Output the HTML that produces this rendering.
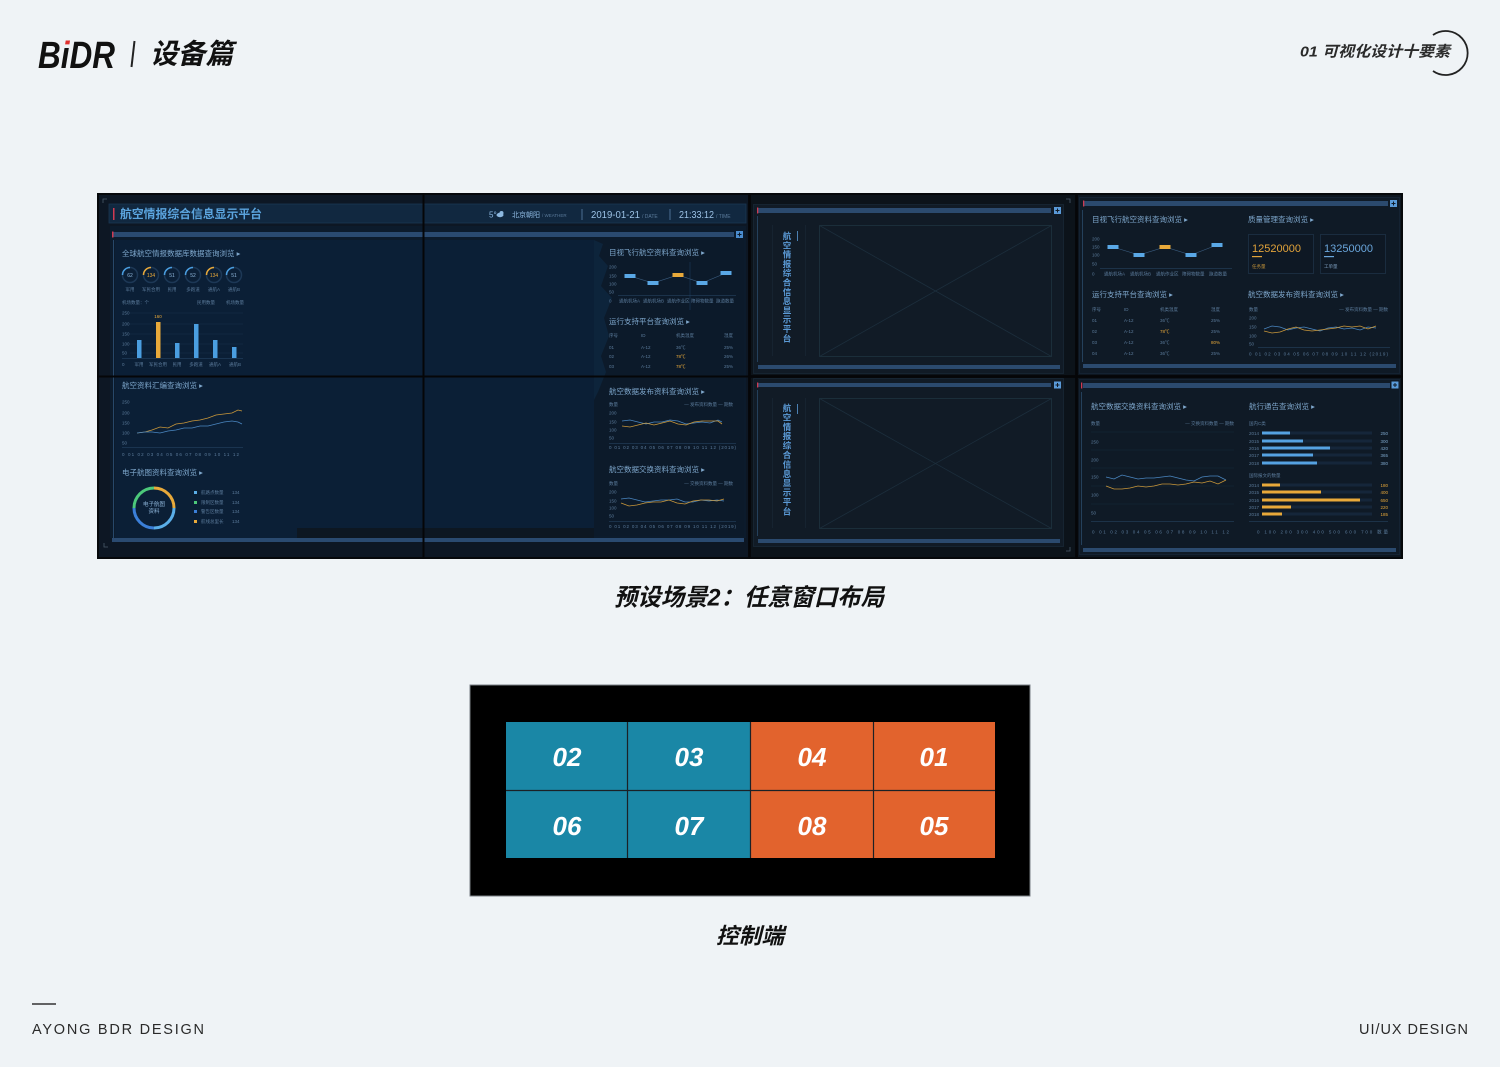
<!DOCTYPE html>
<html><head><meta charset="utf-8">
<style>
html,body{margin:0;padding:0;background:#eff3f6;}
body{width:1500px;height:1067px;overflow:hidden;}
svg{display:block}
text{font-family:"Liberation Sans","Noto Sans CJK SC",sans-serif;}
.s{font-size:7.5px;fill:#7ea7cc}
.m{font-size:4.5px;fill:#5b7b9b}
.v{font-size:8.5px;font-weight:bold;fill:#5b9ad6;text-anchor:middle}
</style></head><body>
<svg width="1500" height="1067" viewBox="0 0 1500 1067" xmlns="http://www.w3.org/2000/svg">
<defs>
<linearGradient id="ig" gradientUnits="userSpaceOnUse" x1="0" y1="38" x2="0" y2="70">
<stop offset="0.28" stop-color="#e0312f"/><stop offset="0.28" stop-color="#111"/>
</linearGradient>
</defs>
<rect x="0" y="0" width="1500" height="1067" fill="#eff3f6"/>

<!-- HEADER -->
<text x="38" y="68" font-size="38" font-weight="bold" font-style="italic" fill="#111" textLength="77" lengthAdjust="spacingAndGlyphs">B<tspan fill="url(#ig)">i</tspan>DR</text>
<line x1="134.5" y1="41" x2="131.5" y2="67" stroke="#222" stroke-width="2"/>
<text x="150" y="54" dominant-baseline="central" font-size="28" font-weight="bold" font-style="italic" fill="#111" textLength="83" lengthAdjust="spacingAndGlyphs">设备篇</text>

<text x="1300" y="52" dominant-baseline="central" font-size="15" font-weight="bold" font-style="italic" fill="#2a2a2a" textLength="150" lengthAdjust="spacingAndGlyphs">01 可视化设计十要素</text>
<path d="M1433 35 A22 22 0 1 1 1433 71" fill="none" stroke="#222" stroke-width="1.8"/>

<!-- DASHBOARD FRAME -->
<rect x="97" y="193" width="1306" height="366" fill="#06080b"/>

<!-- LEFT WINDOW -->
<rect x="99" y="195" width="649" height="362" fill="#0d1724"/>
<path d="M103 203V199H107" stroke="#4a5a6a" fill="none" stroke-width="0.8"/>
<rect x="109" y="204" width="637" height="19" fill="#112840" stroke="#1b3652" stroke-width="0.8"/>
<rect x="113" y="208" width="1.5" height="12" fill="#d03a52"/>
<text x="120" y="214" dominant-baseline="central" font-size="12" font-weight="bold" fill="#5ba4de" textLength="142" lengthAdjust="spacingAndGlyphs">航空情报综合信息显示平台</text>
<text x="489" y="217.5" font-size="8" fill="#8db8e0">5°</text>
<ellipse cx="500" cy="215" rx="3.5" ry="2.2" fill="#8db8e0"/><circle cx="501.5" cy="213" r="2" fill="#8db8e0"/>
<text x="512" y="217" font-size="7" fill="#8db8e0">北京朝阳 <tspan font-size="4.5" fill="#5a7a9a">/ WEATHER</tspan></text>
<line x1="582" y1="209" x2="582" y2="220" stroke="#5a80a8" stroke-width="0.8"/>
<text x="591" y="218" font-size="10" fill="#9cc2e6" textLength="49" lengthAdjust="spacingAndGlyphs">2019-01-21</text>
<text x="642" y="218" font-size="5" fill="#5a7a9a">/ DATE</text>
<line x1="670" y1="209" x2="670" y2="220" stroke="#5a80a8" stroke-width="0.8"/>
<text x="679" y="218" font-size="10" fill="#9cc2e6" textLength="35" lengthAdjust="spacingAndGlyphs">21:33:12</text>
<text x="716" y="218" font-size="5" fill="#5a7a9a">/ TIME</text>

<rect x="110" y="226" width="636" height="312" fill="#0c1b2c"/>
<rect x="112" y="232" width="622" height="5" fill="#2a4a70"/>
<rect x="112" y="231.5" width="1.5" height="6" fill="#d03a52"/>
<rect x="736" y="231" width="7" height="7" fill="#4b8dd0"/>
<path d="M737.5 234.5h4M739.5 232.5v4" stroke="#0c1b2c" stroke-width="1"/>
<rect x="115" y="240" width="479" height="288" fill="#0b1f36"/>
<rect x="115" y="528" width="182" height="10" fill="#0b1f36"/>
<rect x="594" y="240" width="150" height="296" fill="#0c1a2a"/>
<path d="M594 240 L603 244 L599 256 L608 266 L601 286 L612 298 L604 318 L609 336 L601 356 L606 372 L598 392 L594 400 Z" fill="#0e2740" opacity="0.8"/>
<line x1="690" y1="262" x2="690" y2="310" stroke="#1a3a5a" stroke-width="0.6"/>
<line x1="113.5" y1="240" x2="113.5" y2="538" stroke="#27486a" stroke-width="1"/>
<rect x="112" y="538" width="632" height="4" fill="#2a4a70"/>
<path d="M104 543V547H108" stroke="#4a5a6a" fill="none" stroke-width="0.8"/>

<!-- left panel: section 1 -->
<text class="s" x="122" y="256">全球航空情报数据库数据查询浏览 ▸</text>
<g fill="none" stroke="#1d3856" stroke-width="1.5">
<circle cx="130" cy="275" r="7.5"/><circle cx="151" cy="275" r="7.5"/><circle cx="172" cy="275" r="7.5"/>
<circle cx="193" cy="275" r="7.5"/><circle cx="214" cy="275" r="7.5"/><circle cx="234" cy="275" r="7.5"/>
</g>
<g fill="none" stroke-width="1.5">
<path d="M122.5 275A7.5 7.5 0 0 1 130 267.5" stroke="#4a9ee0"/>
<path d="M143.5 275A7.5 7.5 0 0 1 151 267.5" stroke="#e8a93a"/>
<path d="M164.5 275A7.5 7.5 0 0 1 172 267.5" stroke="#4a9ee0"/>
<path d="M185.5 275A7.5 7.5 0 0 1 193 267.5" stroke="#4a9ee0"/>
<path d="M206.5 275A7.5 7.5 0 0 1 214 267.5" stroke="#e8a93a"/>
<path d="M226.5 275A7.5 7.5 0 0 1 234 267.5" stroke="#4a9ee0"/>
</g>
<g font-size="5" fill="#8fb6da" text-anchor="middle">
<text x="130" y="277">62</text><text x="151" y="277" fill="#e8a93a">134</text><text x="172" y="277">51</text>
<text x="193" y="277">52</text><text x="214" y="277" fill="#e8a93a">134</text><text x="234" y="277">51</text>
</g>
<g class="m" text-anchor="middle">
<text x="130" y="291">军用</text><text x="151" y="291">军民合用</text><text x="172" y="291">民用</text>
<text x="193" y="291">多跑道</text><text x="214" y="291">通航A</text><text x="234" y="291">通航B</text>
</g>
<g class="m" font-size="4">
<text x="122" y="304">机场数量：个</text><text x="197" y="304">民用数量</text><text x="226" y="304">机场数量</text>
</g>
<g stroke="#16304a" stroke-width="0.5">
<line x1="130" y1="313" x2="243" y2="313"/><line x1="130" y1="324" x2="243" y2="324"/><line x1="130" y1="334" x2="243" y2="334"/>
<line x1="130" y1="344" x2="243" y2="344"/><line x1="130" y1="353" x2="243" y2="353"/>
</g>
<line x1="122" y1="358.5" x2="243" y2="358.5" stroke="#2a4a6a" stroke-width="0.6"/>
<g class="m" font-size="4">
<text x="122" y="314.5">250</text><text x="122" y="325.5">200</text><text x="122" y="335.5">150</text>
<text x="122" y="345.5">100</text><text x="122" y="354.5">50</text><text x="122" y="366">0</text>
</g>
<g fill="#4a9ee0">
<rect x="137" y="340" width="4.5" height="18"/><rect x="175" y="343" width="4.5" height="15"/>
<rect x="194" y="324" width="4.5" height="34"/><rect x="213" y="340" width="4.5" height="18"/>
<rect x="232" y="347" width="4.5" height="11"/>
</g>
<rect x="156" y="322" width="4.5" height="36" fill="#e8a93a"/>
<text x="158" y="318" font-size="4.5" fill="#e8a93a" text-anchor="middle">160</text>
<g class="m" font-size="4" text-anchor="middle">
<text x="139" y="366">军用</text><text x="158" y="366">军民合用</text><text x="177" y="366">民用</text>
<text x="196" y="366">多跑道</text><text x="215" y="366">通航A</text><text x="235" y="366">通航B</text>
</g>

<!-- left panel: section 2 -->
<text class="s" x="122" y="388">航空资料汇编查询浏览 ▸</text>
<g class="m" font-size="4">
<text x="122" y="403.5">250</text><text x="122" y="414.5">200</text><text x="122" y="424.5">150</text>
<text x="122" y="434.5">100</text><text x="122" y="444.5">50</text>
</g>
<line x1="122" y1="447.5" x2="243" y2="447.5" stroke="#2a4a6a" stroke-width="0.6"/>
<text class="m" x="122" y="456" font-size="4" textLength="117">0 01 02 03 04 05 06 07 08 09 10 11 12</text>
<polyline fill="none" stroke="#c9973a" stroke-width="0.8" points="137,433 145,432 152,430 160,427 168,428 176,424 184,423 192,421 200,420 208,418 216,415 224,414 232,413 238,410 242,411"/>
<polyline fill="none" stroke="#4a86c0" stroke-width="0.8" points="137,433 145,432 152,432 160,433 168,431 176,430 184,428 192,428 200,426 208,426 216,424 224,422 232,421 238,422 242,424"/>

<!-- left panel: section 3 donut -->
<text class="s" x="122" y="475">电子航图资料查询浏览 ▸</text>
<g fill="none" stroke-width="3">
<path d="M154 488 A20 20 0 0 1 174 508" stroke="#e8a93a"/>
<path d="M174 508 A20 20 0 0 1 154 528" stroke="#5aaee8"/>
<path d="M154 528 A20 20 0 0 1 134 508" stroke="#3b7fd8"/>
<path d="M134 508 A20 20 0 0 1 154 488" stroke="#4cc87a"/>
</g>
<text x="154" y="506" font-size="5.5" fill="#8fb6da" text-anchor="middle">电子航图</text>
<text x="154" y="513" font-size="5.5" fill="#8fb6da" text-anchor="middle">资料</text>
<rect x="194" y="491" width="3" height="3" fill="#5aaee8"/><rect x="194" y="501" width="3" height="3" fill="#4cc87a"/>
<rect x="194" y="510" width="3" height="3" fill="#3b7fd8"/><rect x="194" y="520" width="3" height="3" fill="#e8a93a"/>
<g class="m" font-size="4">
<text x="201" y="494">航路点数量</text><text x="201" y="504">限制区数量</text><text x="201" y="513">警告区数量</text><text x="201" y="523">航线总里长</text>
<text x="232" y="494">134</text><text x="232" y="504">134</text><text x="232" y="513">134</text><text x="232" y="523">134</text>
</g>
<rect x="297" y="528" width="297" height="10" fill="#0d1722"/>

<!-- left window right panel -->
<text class="s" x="609" y="255">目视飞行航空资料查询浏览 ▸</text>
<g class="m" font-size="4">
<text x="609" y="268.5">200</text><text x="609" y="277.5">150</text><text x="609" y="285.5">100</text>
<text x="609" y="293.5">50</text><text x="609" y="302.5">0</text>
</g>
<line x1="618" y1="295.5" x2="736" y2="295.5" stroke="#2a4a6a" stroke-width="0.6"/>
<polyline fill="none" stroke="#3b5d80" stroke-width="0.6" points="630,276 653,283 678,275 702,283 726,273"/>
<g fill="#5aa8e6"><rect x="624.5" y="274" width="11" height="4"/><rect x="647.5" y="281" width="11" height="4"/>
<rect x="696.5" y="281" width="11" height="4"/><rect x="720.5" y="271" width="11" height="4"/></g>
<rect x="672.5" y="273" width="11" height="4" fill="#e8a93a"/>
<g class="m" font-size="3.8">
<text x="619" y="302.5">通航机场A</text><text x="643" y="302.5">通航机场B</text><text x="667" y="302.5">通航作业区</text>
<text x="691" y="302.5">障碍物数量</text><text x="716" y="302.5">跑道数量</text>
</g>
<text class="s" x="609" y="324">运行支持平台查询浏览 ▸</text>
<g class="m" font-size="4.2">
<text x="609" y="337">序号</text><text x="641" y="337">ID</text><text x="676" y="337">机类温度</text><text x="724" y="337">湿度</text>
<text x="609" y="349">01</text><text x="641" y="349">A-12</text><text x="676" y="349">36℃</text><text x="724" y="349">25%</text>
<text x="609" y="358">02</text><text x="641" y="358">A-12</text><text x="676" y="358" fill="#e8a93a">78℃</text><text x="724" y="358">26%</text>
<text x="609" y="368">03</text><text x="641" y="368">A-12</text><text x="676" y="368" fill="#e8a93a">78℃</text><text x="724" y="368">25%</text>
</g>
<text class="s" x="609" y="394">航空数据发布资料查询浏览 ▸</text>
<text class="m" font-size="4" x="609" y="406">数量</text>
<text class="m" font-size="4" x="733" y="406" text-anchor="end">— 发布资料数量 — 期数</text>
<g class="m" font-size="4">
<text x="609" y="414.5">200</text><text x="609" y="423.5">150</text><text x="609" y="431.5">100</text><text x="609" y="439.5">50</text>
</g>
<line x1="609" y1="443.5" x2="736" y2="443.5" stroke="#2a4a6a" stroke-width="0.6"/>
<text class="m" font-size="4" x="609" y="449" textLength="127">0 01 02 03 04 05 06 07 08 09 10 11 12 (2019)</text>
<polyline fill="none" stroke="#4a86c0" stroke-width="0.8" points="622,421 630,420 638,422 646,424 654,422 662,422 670,420 678,421 686,424 694,423 702,422 710,423 718,420 722,422"/>
<polyline fill="none" stroke="#c9973a" stroke-width="0.8" points="622,426 630,427 638,425 646,423 654,425 662,423 670,421 678,424 686,425 694,422 702,421 710,421 718,421 722,424"/>
<text class="s" x="609" y="472">航空数据交换资料查询浏览 ▸</text>
<text class="m" font-size="4" x="609" y="485">数量</text>
<text class="m" font-size="4" x="733" y="485" text-anchor="end">— 交换资料数量 — 期数</text>
<g class="m" font-size="4">
<text x="609" y="493.5">200</text><text x="609" y="502.5">150</text><text x="609" y="509.5">100</text><text x="609" y="517.5">50</text>
</g>
<line x1="609" y1="521.5" x2="736" y2="521.5" stroke="#2a4a6a" stroke-width="0.6"/>
<text class="m" font-size="4" x="609" y="528" textLength="127">0 01 02 03 04 05 06 07 08 09 10 11 12 (2019)</text>
<polyline fill="none" stroke="#4a86c0" stroke-width="0.8" points="621,499 629,498 637,500 645,502 653,501 661,500 669,500 677,499 685,502 693,502 701,500 709,501 717,500 724,501"/>
<polyline fill="none" stroke="#c9973a" stroke-width="0.8" points="621,503 629,506 637,505 645,503 653,502 661,502 669,500 677,503 685,504 693,501 701,500 709,500 717,501 724,499"/>

<!-- COLUMN 3 TOP -->
<rect x="751" y="195" width="324" height="180" fill="#0c131a"/>
<rect x="753.5" y="204.5" width="310" height="169" fill="#111b26" stroke="#1a2836" stroke-width="0.8"/>
<path d="M1066 199H1070V203" stroke="#4a5a6a" fill="none" stroke-width="0.8"/>
<rect x="757" y="208" width="294" height="5" fill="#2b4a6e"/>
<rect x="757" y="207.5" width="1.3" height="6" fill="#d03a52"/>
<rect x="1054" y="207" width="7" height="7" fill="#5a9ad8"/>
<path d="M1055.5 210.5h4M1057.5 208.5v4" stroke="#111b26" stroke-width="1"/>
<line x1="757.5" y1="216" x2="757.5" y2="362" stroke="#2a4a6a" stroke-width="0.8"/>
<line x1="772.5" y1="225" x2="772.5" y2="356" stroke="#1c2a38" stroke-width="0.6"/>
<line x1="805.5" y1="225" x2="805.5" y2="356" stroke="#1c2a38" stroke-width="0.6"/>
<line x1="797.5" y1="231" x2="797.5" y2="241" stroke="#5b9ad6" stroke-width="0.8"/>
<g class="v">
<text x="787" y="239">航</text><text x="787" y="248.3">空</text><text x="787" y="257.6">情</text><text x="787" y="266.9">报</text>
<text x="787" y="276.2">综</text><text x="787" y="285.5">合</text><text x="787" y="294.8">信</text><text x="787" y="304.1">息</text>
<text x="787" y="313.4">显</text><text x="787" y="322.7">示</text><text x="787" y="332">平</text><text x="787" y="341.3">台</text>
</g>
<rect x="819.5" y="225.5" width="232" height="131" fill="none" stroke="#1f3440" stroke-width="0.8"/>
<path d="M819.5 225.5L1051.5 356.5M1051.5 225.5L819.5 356.5" stroke="#1c2e3c" stroke-width="0.8"/>
<rect x="758" y="365" width="302" height="4" fill="#2b4a6e"/>

<!-- COLUMN 3 BOTTOM -->
<rect x="751" y="378" width="324" height="179" fill="#0c131a"/>
<rect x="753.5" y="378.5" width="310" height="168" fill="#111b26" stroke="#1a2836" stroke-width="0.8"/>
<path d="M1066 551H1070V547" stroke="#4a5a6a" fill="none" stroke-width="0.8"/>
<rect x="757" y="383" width="294" height="4" fill="#2b4a6e"/>
<rect x="757" y="382.5" width="1.3" height="5" fill="#d03a52"/>
<rect x="1054" y="381.5" width="7" height="7" fill="#5a9ad8"/>
<path d="M1055.5 385h4M1057.5 383v4" stroke="#111b26" stroke-width="1"/>
<line x1="757.5" y1="390" x2="757.5" y2="536" stroke="#2a4a6a" stroke-width="0.8"/>
<line x1="772.5" y1="398" x2="772.5" y2="528" stroke="#1c2a38" stroke-width="0.6"/>
<line x1="805.5" y1="398" x2="805.5" y2="528" stroke="#1c2a38" stroke-width="0.6"/>
<line x1="797.5" y1="404" x2="797.5" y2="414" stroke="#5b9ad6" stroke-width="0.8"/>
<g class="v">
<text x="787" y="411">航</text><text x="787" y="420.4">空</text><text x="787" y="429.8">情</text><text x="787" y="439.2">报</text>
<text x="787" y="448.6">综</text><text x="787" y="458">合</text><text x="787" y="467.4">信</text><text x="787" y="476.8">息</text>
<text x="787" y="486.2">显</text><text x="787" y="495.6">示</text><text x="787" y="505">平</text><text x="787" y="514.4">台</text>
</g>
<rect x="819.5" y="398.5" width="232" height="130" fill="none" stroke="#1f3440" stroke-width="0.8"/>
<path d="M819.5 398.5L1051.5 528.5M1051.5 398.5L819.5 528.5" stroke="#1c2e3c" stroke-width="0.8"/>
<rect x="758" y="539" width="302" height="4" fill="#2b4a6e"/>

<!-- COLUMN 4 TOP -->
<rect x="1078" y="195" width="323" height="180" fill="#0d1620"/>
<rect x="1079.5" y="197.5" width="320" height="176" fill="#0f1a26" stroke="#172636" stroke-width="0.8"/>
<rect x="1083" y="201" width="305" height="5" fill="#2b4a6e"/>
<rect x="1083" y="200.5" width="1.3" height="6" fill="#d03a52"/>
<rect x="1390" y="200" width="7" height="7" fill="#5a9ad8"/>
<path d="M1391.5 203.5h4M1393.5 201.5v4" stroke="#0f1a26" stroke-width="1"/>
<line x1="1082.5" y1="210" x2="1082.5" y2="362" stroke="#2a4a6a" stroke-width="0.8"/>
<text class="s" x="1092" y="222">目视飞行航空资料查询浏览 ▸</text>
<g class="m" font-size="4">
<text x="1092" y="240.5">200</text><text x="1092" y="248.5">150</text><text x="1092" y="256.5">100</text>
<text x="1092" y="265.5">50</text><text x="1092" y="275.5">0</text>
</g>
<line x1="1100" y1="268.5" x2="1232" y2="268.5" stroke="#2a4a6a" stroke-width="0.6"/>
<polyline fill="none" stroke="#3b5d80" stroke-width="0.6" points="1113,247 1139,255 1165,247 1191,255 1217,245"/>
<g fill="#5aa8e6"><rect x="1107.5" y="245" width="11" height="4"/><rect x="1133.5" y="253" width="11" height="4"/>
<rect x="1185.5" y="253" width="11" height="4"/><rect x="1211.5" y="243" width="11" height="4"/></g>
<rect x="1159.5" y="245" width="11" height="4" fill="#e8a93a"/>
<g class="m" font-size="3.8">
<text x="1104" y="275.5">通航机场A</text><text x="1130" y="275.5">通航机场B</text><text x="1156" y="275.5">通航作业区</text>
<text x="1182" y="275.5">障碍物数量</text><text x="1209" y="275.5">跑道数量</text>
</g>
<text class="s" x="1248" y="222">质量管理查询浏览 ▸</text>
<rect x="1248.5" y="234.5" width="65" height="39" fill="#0e1824" stroke="#1f3246" stroke-width="0.8"/>
<rect x="1320.5" y="234.5" width="65" height="39" fill="#0e1824" stroke="#1f3246" stroke-width="0.8"/>
<text x="1252" y="252" font-size="11" fill="#e2a33a" textLength="49" lengthAdjust="spacingAndGlyphs">12520000</text>
<text x="1324" y="252" font-size="11" fill="#6aa6dc" textLength="49" lengthAdjust="spacingAndGlyphs">13250000</text>
<rect x="1252" y="256" width="10" height="1.2" fill="#e2a33a"/>
<rect x="1324" y="256" width="10" height="1.2" fill="#6aa6dc"/>
<text x="1252" y="268" font-size="4.5" fill="#c9973a">任务量</text>
<text x="1324" y="268" font-size="4.5" fill="#7a9aba">工单量</text>
<text class="s" x="1092" y="297">运行支持平台查询浏览 ▸</text>
<g class="m" font-size="4.2">
<text x="1092" y="311">序号</text><text x="1124" y="311">ID</text><text x="1160" y="311">机类温度</text><text x="1211" y="311">湿度</text>
<text x="1092" y="322">01</text><text x="1124" y="322">A-12</text><text x="1160" y="322">36℃</text><text x="1211" y="322">25%</text>
<text x="1092" y="333">02</text><text x="1124" y="333">A-12</text><text x="1160" y="333" fill="#e8a93a">78℃</text><text x="1211" y="333">25%</text>
<text x="1092" y="344">03</text><text x="1124" y="344">A-12</text><text x="1160" y="344">36℃</text><text x="1211" y="344" fill="#e8a93a">80%</text>
<text x="1092" y="355">04</text><text x="1124" y="355">A-12</text><text x="1160" y="355">36℃</text><text x="1211" y="355">25%</text>
</g>
<text class="s" x="1248" y="297">航空数据发布资料查询浏览 ▸</text>
<text class="m" font-size="4" x="1249" y="311">数量</text>
<text class="m" font-size="4" x="1388" y="311" text-anchor="end">— 发布资料数量 — 期数</text>
<g class="m" font-size="4">
<text x="1249" y="319.5">200</text><text x="1249" y="328.5">150</text><text x="1249" y="337.5">100</text><text x="1249" y="345.5">50</text>
</g>
<line x1="1258" y1="347.5" x2="1390" y2="347.5" stroke="#2a4a6a" stroke-width="0.6"/>
<text class="m" font-size="4" x="1249" y="355.5" textLength="139">0 01 02 03 04 05 06 07 08 09 10 11 12 (2019)</text>
<polyline fill="none" stroke="#4a86c0" stroke-width="0.8" points="1264,329 1272,326 1280,327 1288,330 1296,328 1304,327 1312,329 1320,331 1328,328 1336,327 1344,329 1352,328 1360,330 1368,327 1376,328"/>
<polyline fill="none" stroke="#c9973a" stroke-width="0.8" points="1264,331 1272,333 1280,332 1288,329 1296,327 1304,330 1312,331 1320,330 1328,329 1336,328 1344,326 1352,327 1360,326 1368,329 1376,326"/>
<rect x="1083" y="364" width="313" height="4" fill="#2b4a6e"/>

<!-- COLUMN 4 BOTTOM -->
<rect x="1078" y="378" width="323" height="179" fill="#0d1620"/>
<rect x="1079.5" y="379.5" width="320" height="175" fill="#0f1a26" stroke="#172636" stroke-width="0.8"/>
<rect x="1083" y="383" width="307" height="5" fill="#2b4a6e"/>
<rect x="1081" y="382.5" width="1.3" height="6" fill="#d03a52"/>
<rect x="1391.5" y="381.5" width="7" height="7" fill="#5a9ad8"/>
<path d="M1393 385h4M1395 383v4" stroke="#0f1a26" stroke-width="1"/>
<line x1="1081.5" y1="392" x2="1081.5" y2="545" stroke="#2a4a6a" stroke-width="0.8"/>
<text class="s" x="1091" y="409">航空数据交换资料查询浏览 ▸</text>
<text class="m" font-size="4" x="1091" y="425">数量</text>
<text class="m" font-size="4" x="1234" y="425" text-anchor="end">— 交换资料数量 — 期数</text>
<g stroke="#16283a" stroke-width="0.5">
<line x1="1091" y1="432" x2="1234" y2="432"/><line x1="1091" y1="450" x2="1234" y2="450"/><line x1="1091" y1="468" x2="1234" y2="468"/>
<line x1="1091" y1="486" x2="1234" y2="486"/><line x1="1091" y1="504" x2="1234" y2="504"/>
</g>
<g class="m" font-size="4.5">
<text x="1091" y="443.5">250</text><text x="1091" y="461.5">200</text><text x="1091" y="478.5">150</text>
<text x="1091" y="496.5">100</text><text x="1091" y="514.5">50</text>
</g>
<line x1="1091" y1="521.5" x2="1234" y2="521.5" stroke="#2a4a6a" stroke-width="0.6"/>
<text class="m" font-size="4.5" x="1092" y="533.5" textLength="137">0 01 02 03 04 05 06 07 08 09 10 11 12</text>
<polyline fill="none" stroke="#4a86c0" stroke-width="0.8" points="1106,477 1114,479 1122,475 1130,477 1138,479 1146,478 1154,478 1162,477 1170,476 1178,478 1186,480 1194,481 1202,477 1210,476 1218,476 1226,480"/>
<polyline fill="none" stroke="#c9973a" stroke-width="0.8" points="1106,486 1114,489 1122,489 1130,488 1138,486 1146,487 1154,486 1162,484 1170,484 1178,485 1186,484 1194,482 1202,483 1210,481 1218,484 1226,480"/>
<text class="s" x="1249" y="409">航行通告查询浏览 ▸</text>
<text class="m" font-size="4.5" x="1249" y="425">国内C类</text>
<g class="m" font-size="4.5">
<text x="1249" y="435">2014</text><text x="1249" y="443">2015</text><text x="1249" y="450">2016</text><text x="1249" y="457">2017</text><text x="1249" y="465">2018</text>
</g>
<g fill="#15263a">
<rect x="1262" y="431.5" width="110" height="3"/><rect x="1262" y="439.5" width="110" height="3"/><rect x="1262" y="446.5" width="110" height="3"/>
<rect x="1262" y="453.5" width="110" height="3"/><rect x="1262" y="461.5" width="110" height="3"/>
</g>
<g fill="#55a2e2">
<rect x="1262" y="431.5" width="28" height="3"/><rect x="1262" y="439.5" width="41" height="3"/><rect x="1262" y="446.5" width="68" height="3"/>
<rect x="1262" y="453.5" width="51" height="3"/><rect x="1262" y="461.5" width="55" height="3"/>
</g>
<g font-size="4.5" fill="#7ea7cc" text-anchor="end">
<text x="1388" y="435">250</text><text x="1388" y="443">300</text><text x="1388" y="450">420</text><text x="1388" y="457">365</text><text x="1388" y="465">380</text>
</g>
<text class="m" font-size="4.5" x="1249" y="477">国际报文的数量</text>
<g class="m" font-size="4.5">
<text x="1249" y="487">2014</text><text x="1249" y="494">2015</text><text x="1249" y="502">2016</text><text x="1249" y="509">2017</text><text x="1249" y="516">2018</text>
</g>
<g fill="#15263a">
<rect x="1262" y="483.5" width="110" height="3"/><rect x="1262" y="490.5" width="110" height="3"/><rect x="1262" y="498.5" width="110" height="3"/>
<rect x="1262" y="505.5" width="110" height="3"/><rect x="1262" y="512.5" width="110" height="3"/>
</g>
<g fill="#e8a93a">
<rect x="1262" y="483.5" width="18" height="3"/><rect x="1262" y="490.5" width="59" height="3"/><rect x="1262" y="498.5" width="98" height="3"/>
<rect x="1262" y="505.5" width="29" height="3"/><rect x="1262" y="512.5" width="20" height="3"/>
</g>
<g font-size="4.5" fill="#e8a93a" text-anchor="end">
<text x="1388" y="487">180</text><text x="1388" y="494">400</text><text x="1388" y="502">650</text><text x="1388" y="509">220</text><text x="1388" y="516">185</text>
</g>
<line x1="1249" y1="521.5" x2="1388" y2="521.5" stroke="#2a4a6a" stroke-width="0.6"/>
<text class="m" font-size="4.5" x="1257" y="533.5" textLength="131">0 100 200 300 400 500 600 700 数量</text>
<rect x="1083" y="548" width="313" height="4" fill="#2b4a6e"/>

<!-- BEZELS -->
<g fill="#050608">
<rect x="422.5" y="193" width="2" height="366"/>
<rect x="748.5" y="193" width="2" height="366"/>
<rect x="1075.5" y="193" width="2" height="366"/>
<rect x="97" y="375.5" width="1306" height="2"/>
</g>

<!-- CAPTION 1 -->
<text x="614" y="598" dominant-baseline="central" font-size="24" font-weight="bold" font-style="italic" fill="#111" textLength="270" lengthAdjust="spacingAndGlyphs">预设场景2：任意窗口布局</text>

<!-- CONTROL -->
<rect x="470" y="685" width="560" height="211" fill="#000" stroke="#7a7f85" stroke-width="1"/>
<rect x="506" y="722" width="244" height="136" fill="#1a87a6"/>
<rect x="750" y="722" width="245" height="136" fill="#e2632d"/>
<g stroke="#1b2126" stroke-width="1.2">
<line x1="506" y1="790.5" x2="995" y2="790.5"/>
<line x1="627.5" y1="722" x2="627.5" y2="858"/>
<line x1="750.5" y1="722" x2="750.5" y2="858"/>
<line x1="873.5" y1="722" x2="873.5" y2="858"/>
</g>
<g font-size="26" font-weight="bold" font-style="italic" fill="#fff" text-anchor="middle" dominant-baseline="central">
<text x="567" y="757">02</text><text x="689" y="757">03</text><text x="812" y="757">04</text><text x="934" y="757">01</text>
<text x="567" y="826">06</text><text x="689" y="826">07</text><text x="812" y="826">08</text><text x="934" y="826">05</text>
</g>
<text x="716" y="936" dominant-baseline="central" font-size="22" font-weight="bold" font-style="italic" fill="#111" textLength="68" lengthAdjust="spacingAndGlyphs">控制端</text>

<!-- FOOTER -->
<line x1="32" y1="1004" x2="56" y2="1004" stroke="#333" stroke-width="1.5"/>
<text x="32" y="1034" font-size="14.5" fill="#2a2a2a" textLength="172" lengthAdjust="spacing">AYONG BDR DESIGN</text>
<text x="1359" y="1034" font-size="14.5" fill="#2a2a2a" textLength="109" lengthAdjust="spacing">UI/UX DESIGN</text>
</svg>
</body></html>
